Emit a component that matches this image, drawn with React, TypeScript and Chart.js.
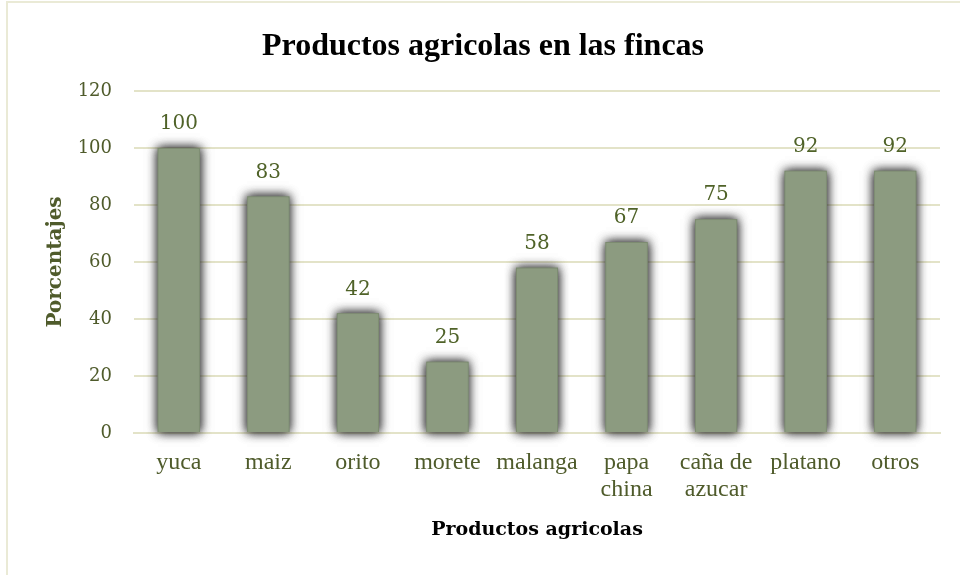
import React, { useEffect, useRef } from "react";
import { Chart, registerables } from "chart.js";

Chart.register(...registerables);

const chartTitle = "Productos agricolas en las fincas";
const categories: (string | string[])[] = ["yuca", "maiz", "orito", "morete", "malanga", ["papa", "china"], ["caña de", "azucar"], "platano", "otros"];
const values = [100, 83, 42, 25, 58, 67, 75, 92, 92];
const yTicks = [0, 20, 40, 60, 80, 100, 120];
const xTitle = "Productos agricolas";
const yTitle = "Porcentajes";

const OLIVE = "#4F5B2B";
const SERIF = "'Liberation Serif', 'DejaVu Serif', serif";
const WIDE = "'DejaVu Serif', 'Liberation Serif', serif";

export default function App() {
  const ref = useRef<HTMLCanvasElement | null>(null);
  useEffect(() => {
    document.body.style.margin = "0";
    const canvas = ref.current!;
    const frame = {
      id: "frame",
      beforeDraw(chart: any) {
        const c = chart.ctx;
        c.save();
        c.fillStyle = "#ffffff";
        c.fillRect(0, 0, chart.width, chart.height);
        c.strokeStyle = "#EAEAD6";
        c.lineWidth = 2;
        c.beginPath();
        c.moveTo(7, 575);
        c.lineTo(7, 2);
        c.lineTo(960, 2);
        c.stroke();
        c.fillStyle = "#000";
        c.font = `bold 32px ${SERIF}`;
        c.textAlign = "center";
        c.textBaseline = "middle";
        c.fillText(chartTitle, 483, 47);
        c.restore();
      },
      beforeDatasetsDraw(chart: any) {
        const c = chart.ctx;
        const meta = chart.getDatasetMeta(0);
        c.save();
        c.shadowColor = "rgba(50,50,50,0.9)";
        c.shadowBlur = 10;
        c.fillStyle = "#8C9B80";
        for (let k = 0; k < 2; k++) {
          meta.data.forEach((bar: any) => {
            const w = bar.width;
            c.fillRect(bar.x - w / 2, bar.y, w, bar.base - bar.y);
          });
        }
        c.restore();
      },
      afterDatasetsDraw(chart: any) {
        const c = chart.ctx;
        const meta = chart.getDatasetMeta(0);
        c.save();
        c.fillStyle = "#4F6228";
        c.font = `20px ${WIDE}`;
        c.textAlign = "center";
        c.textBaseline = "middle";
        meta.data.forEach((bar: any, i: number) => {
          c.fillText(String(values[i]), bar.x, bar.y - 24);
        });
        c.restore();
      },
    };
    const chart = new Chart(canvas, {
      type: "bar",
      data: {
        labels: categories,
        datasets: [
          {
            data: values,
            backgroundColor: "#8C9B80",
            borderColor: "#7C8B70",
            borderWidth: 1,
            barPercentage: 0.47,
            categoryPercentage: 1,
          },
        ],
      },
      options: {
        animation: false,
        responsive: false,
        layout: { padding: { left: 8, right: 20, top: 91, bottom: 0 } },
        plugins: { legend: { display: false }, tooltip: { enabled: false } },
        scales: {
          x: {
            grid: { display: false, drawTicks: false },
            border: { display: true, color: "#E3E3C8", width: 2 },
            ticks: { color: OLIVE, font: { family: SERIF, size: 24, lineHeight: 1.1 }, padding: 17, maxRotation: 0, autoSkip: false },
            title: { display: true, text: xTitle, color: "#000", font: { family: WIDE, size: 19, weight: "bold" }, padding: { top: 0, bottom: 34 } },
            afterFit(scale: any) { scale.height = 142; },
          },
          y: {
            min: 0,
            max: 120,
            afterBuildTicks(scale: any) { scale.ticks = yTicks.map((v) => ({ value: v })); },
            grid: { color: "#E3E3C8", lineWidth: 2, drawTicks: false },
            border: { display: false },
            ticks: { color: OLIVE, font: { family: WIDE, size: 18 }, padding: 22 },
            title: { display: true, text: yTitle, color: OLIVE, font: { family: WIDE, size: 20, weight: "bold" }, padding: { top: 36, bottom: 0 } },
            afterFit(scale: any) { scale.width = 126; },
          },
        },
      },
      plugins: [frame],
    });
    return () => chart.destroy();
  }, []);
  return <canvas ref={ref} width={960} height={575} style={{ display: "block" }} />;
}
